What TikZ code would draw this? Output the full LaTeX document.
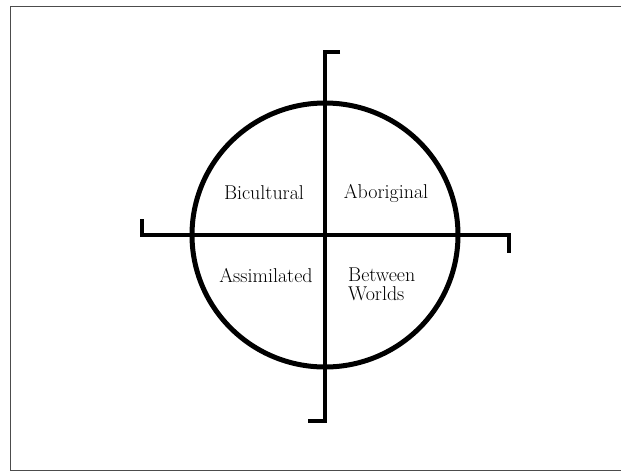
\documentclass[tikz,border=0pt]{standalone}
\usepackage{fontspec}
\usetikzlibrary{positioning}
\tikzset{
  axis/.style={line width=3.6pt},
  ring/.style={line width=5pt},
  quad/.style={font=\fontsize{20}{19}\selectfont, inner sep=0pt, align=left}
}
\begin{document}
\begin{tikzpicture}[x=1pt, y=-1pt]
  \useasboundingbox (0,0) rectangle (621,472);
  % Frame
  \draw[black!70, line width=0.9pt] (622,6) -- (10,6) -- (10,470) -- (622,470);
  % Axes with end ticks
  \coordinate (O) at (325,235);
  \draw[axis] (340,52) -- (325,52) -- (325,421) -- (308,421);
  \draw[axis] (142,219) -- (142,235) -- (509,235) -- (509,253);
  % Circle
  \draw[ring] (O) ellipse (133pt and 132pt);
  % Quadrant labels
  \node[quad] (bicult) at (264,193) {Bicultural};
  \node[quad] (abor) at (386,193) {Aboriginal};
  \node[quad] (assim) at (266,276) {Assimilated};
  \node[quad, anchor=north west] (betw) at (348,268) {Between\\Worlds};
\end{tikzpicture}
\end{document}
